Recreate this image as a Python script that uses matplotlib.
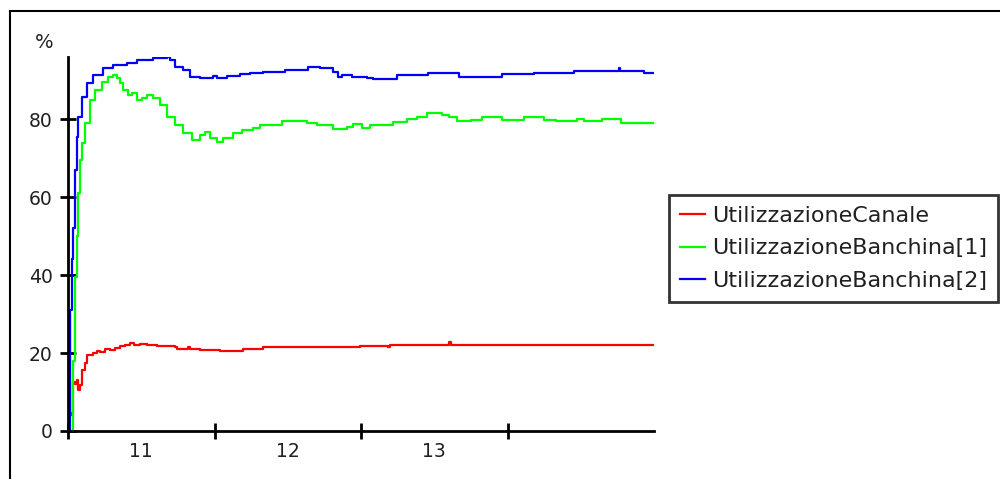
import matplotlib
matplotlib.use("Agg")
import matplotlib.pyplot as plt
from matplotlib.lines import Line2D

# ---- data (time in days from start of axis; values in %) ----
day_labels = ["11", "12", "13"]

t_canale = [0.0, 0.0068, 0.0136, 0.0273, 0.0341, 0.0477, 0.0613, 0.0682, 0.0818, 0.0954,
            0.1159, 0.1295, 0.1500, 0.1704, 0.1950, 0.2181, 0.2500, 0.2863, 0.3200, 0.3545,
            0.3900, 0.4226, 0.4500, 0.4908, 0.5385, 0.6067, 0.7294, 0.7430, 0.8180, 0.8320,
            0.8998, 1.0361, 1.1929, 1.3292, 1.9905, 2.1813, 2.1950, 2.6040, 2.6176, 3.9950]
v_canale = [0.0, 30.0, 4.0, 4.5, 12.6, 12.0, 13.0, 10.5, 11.8, 15.6,
            17.4, 19.5, 19.6, 20.0, 20.6, 20.3, 21.0, 20.8, 21.3, 21.8,
            22.0, 22.6, 22.1, 22.3, 22.0, 21.8, 21.5, 21.0, 21.5, 21.0,
            20.8, 20.5, 21.0, 21.5, 21.8, 21.5, 22.0, 22.8, 22.0, 22.0]

t_banchina1 = [0.0205, 0.0341, 0.0477, 0.0613, 0.0682, 0.0818, 0.0954, 0.1159, 0.1500, 0.1840,
               0.2318, 0.2727, 0.3067, 0.3340, 0.3545, 0.3749, 0.4090, 0.4363, 0.4703, 0.5044,
               0.5385, 0.5794, 0.6271, 0.6749, 0.7294, 0.7839, 0.8453, 0.8998, 0.9339, 0.9680,
               1.0157, 1.0566, 1.1248, 1.1861, 1.2611, 1.3088, 1.4588, 1.6155, 1.6292, 1.6973,
               1.8064, 1.9018, 1.9427, 2.0041, 2.0586, 2.2154, 2.3108, 2.3790, 2.4472, 2.5562,
               2.6040, 2.6520, 2.7540, 2.8290, 2.9650, 3.0270, 3.1150, 3.2520, 3.3330, 3.4770,
               3.5240, 3.6470, 3.7760, 3.9950]
v_banchina1 = [0.0, 18.0, 39.5, 50.0, 61.0, 69.5, 73.8, 79.0, 84.9, 87.4,
               89.5, 90.8, 91.3, 90.5, 89.2, 87.4, 86.2, 86.7, 84.9, 85.4,
               86.2, 85.4, 83.6, 80.5, 78.5, 76.4, 74.6, 75.9, 76.7, 75.1,
               74.1, 75.1, 76.4, 77.2, 77.7, 78.5, 79.5, 79.5, 79.0, 78.5,
               77.4, 77.9, 78.7, 77.7, 78.5, 79.2, 80.0, 80.5, 81.5, 81.0,
               80.5, 79.5, 79.7, 80.5, 79.7, 79.7, 80.5, 79.7, 79.5, 80.0,
               79.5, 80.0, 79.0, 79.0]

t_banchina2 = [0.0, 0.0136, 0.0273, 0.0341, 0.0477, 0.0613, 0.0682, 0.0954, 0.1295, 0.1704,
               0.2386, 0.3067, 0.4022, 0.4703, 0.5794, 0.6749, 0.6953, 0.7294, 0.7839, 0.8316,
               0.8998, 0.9884, 1.0157, 1.0838, 1.1725, 1.2407, 1.3292, 1.4792, 1.6360, 1.7178,
               1.8064, 1.8405, 1.8678, 1.9359, 2.0382, 2.0791, 2.2427, 2.4540, 2.6721, 2.9652,
               3.1834, 3.4560, 3.7560, 3.7628, 3.7700, 3.9196, 3.9332, 3.9950]
v_banchina2 = [0.0, 31.0, 44.0, 52.0, 67.0, 75.4, 80.5, 85.6, 89.2, 91.3,
               93.1, 93.8, 94.4, 95.1, 95.6, 95.9, 95.1, 93.3, 92.6, 90.8,
               90.5, 91.0, 90.5, 91.0, 91.5, 91.8, 92.1, 92.6, 93.3, 93.1,
               92.1, 90.8, 91.3, 90.8, 90.5, 90.3, 91.3, 91.8, 90.8, 91.5,
               91.8, 92.3, 92.3, 93.1, 92.3, 92.3, 91.8, 91.8]

series_names = ["UtilizzazioneCanale", "UtilizzazioneBanchina[1]", "UtilizzazioneBanchina[2]"]
series_colors = ["#ff0000", "#00ff00", "#0000ff"]

# ---- figure ----
plt.rcParams['font.family'] = ['DejaVu Sans']
fig = plt.figure(figsize=(10.0, 4.79), dpi=100)

ax = fig.add_axes([0.068, 1 - 431 / 479, 0.654 - 0.068, (431 - 57) / 479])

for t, v, name, c in zip([t_canale, t_banchina1, t_banchina2],
                         [v_canale, v_banchina1, v_banchina2],
                         series_names, series_colors):
    ax.plot(t, v, color=c, lw=1.6, label=name, drawstyle='steps-post')

ax.set_xlim(0, 4)
ax.set_ylim(0, 95.9)

for s in ['top', 'right']:
    ax.spines[s].set_visible(False)
for s in ['left', 'bottom']:
    ax.spines[s].set_linewidth(2)
    ax.spines[s].set_color('black')

ax.set_yticks([0, 20, 40, 60, 80])
ax.set_xticks([0, 1, 2, 3])
ax.set_xticklabels([])
ax.set_xticks([0.5, 1.5, 2.5], minor=True)
ax.set_xticklabels(day_labels, minor=True)
ax.tick_params(axis='x', which='major', direction='inout', length=12, width=2, color='black')
ax.tick_params(axis='x', which='minor', length=0, labelsize=13.5, labelcolor='#202020', pad=8)
ax.tick_params(axis='y', which='major', direction='inout', length=12, width=2, color='black',
               labelsize=13.5, labelcolor='#202020', pad=5)

fig.text(0.044, 1 - 43 / 479, '%', ha='center', va='center', fontsize=14, color='#202020')

leg = fig.legend(loc='upper left', bbox_to_anchor=(0.669, 1 - 195 / 479),
                 fontsize=16, frameon=True, fancybox=False, handlelength=1.1,
                 handletextpad=0.35, borderpad=0.5, labelspacing=0.55, borderaxespad=0)
leg.get_frame().set_edgecolor('black')
leg.get_frame().set_linewidth(2)
for txt in leg.get_texts():
    txt.set_color('#202020')

# outer frame (left and top edges)
fig.add_artist(Line2D([0.0095, 0.0095], [0, 1 - 11 / 479], transform=fig.transFigure,
                      color='black', lw=1.5))
fig.add_artist(Line2D([0.0095, 1.0], [1 - 11 / 479, 1 - 11 / 479], transform=fig.transFigure,
                      color='black', lw=1.5))

fig.savefig('out.png', dpi=100, facecolor='white')
